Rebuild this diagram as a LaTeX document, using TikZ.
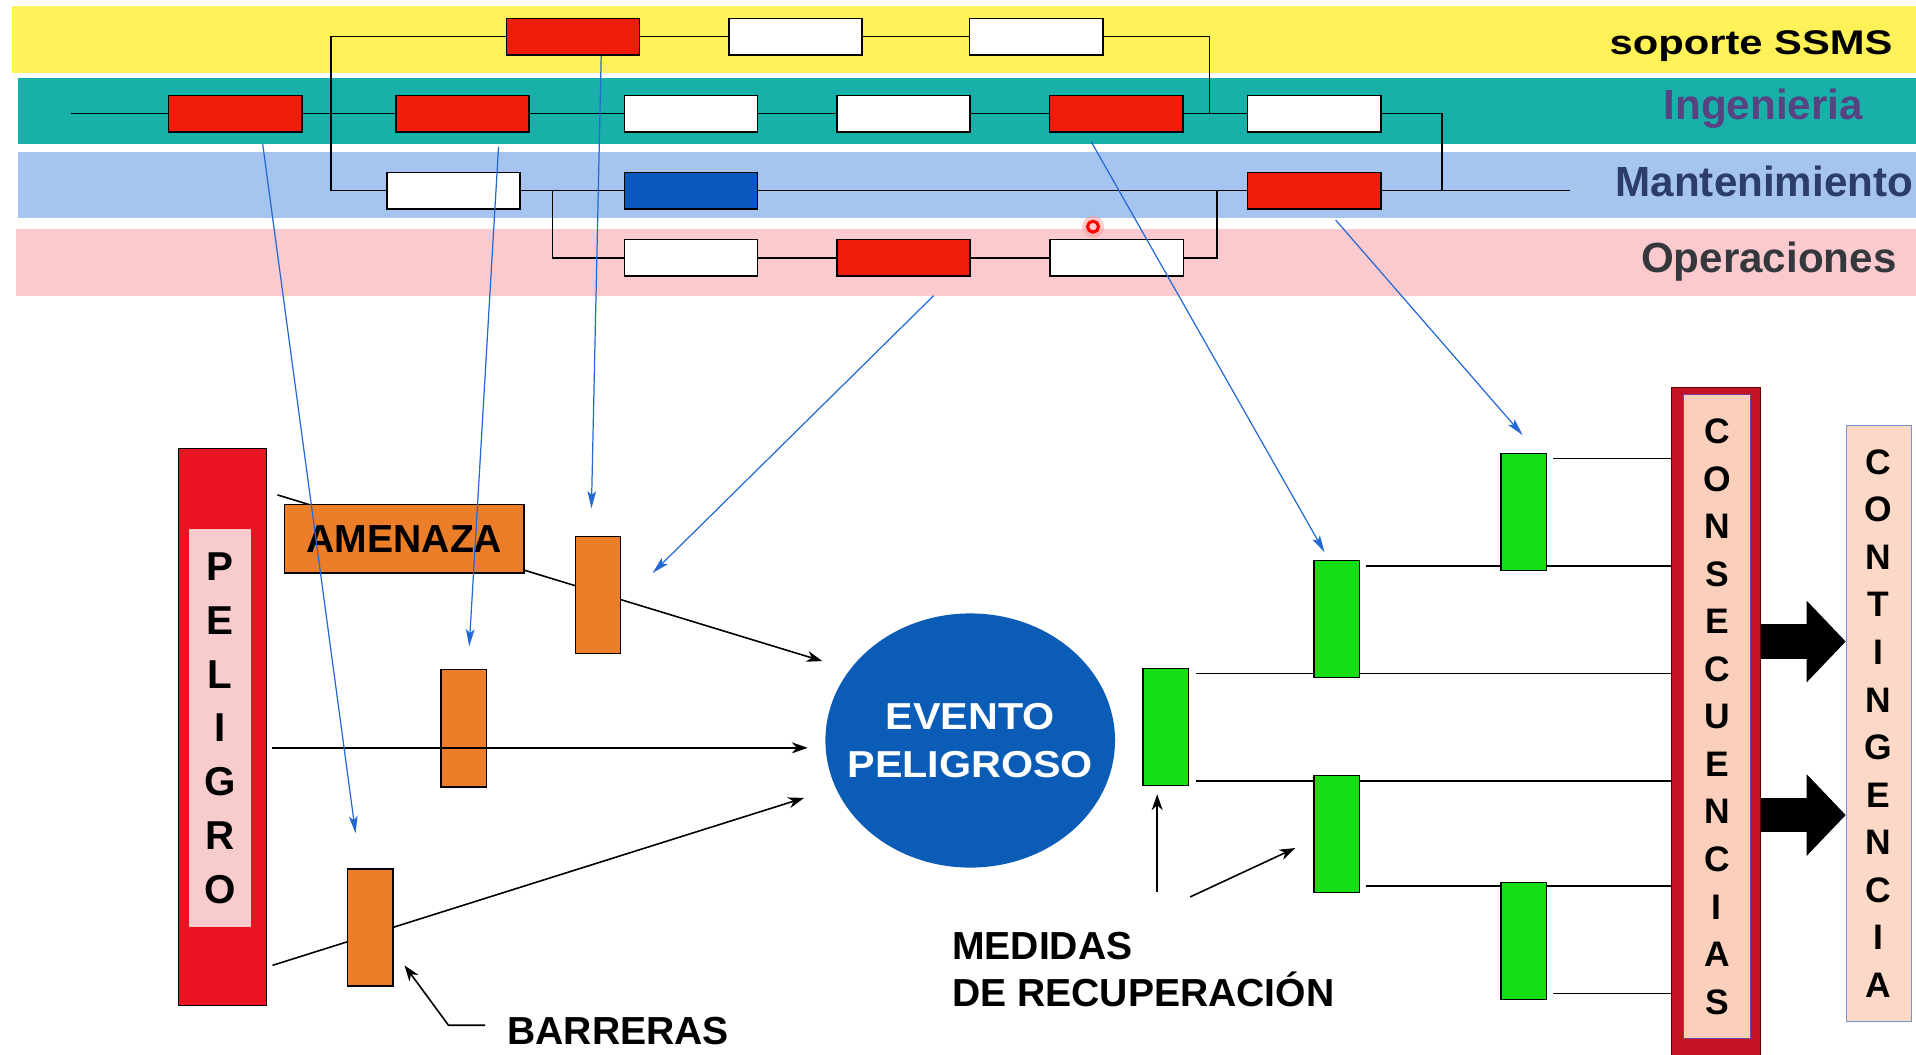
\documentclass[tikz,border=0pt]{standalone}
\usepackage{fontspec}
\setmainfont{Liberation Sans}
\newfontfamily\wideA{Liberation Sans}[FakeStretch=1.22]
\newfontfamily\wideB{Liberation Sans}[FakeStretch=1.1]
\usetikzlibrary{arrows.meta,shapes.geometric}
\definecolor{bandY}{RGB}{255,242,88}
\definecolor{bandT}{RGB}{24,176,168}
\definecolor{bandB}{RGB}{166,196,240}
\definecolor{bandP}{RGB}{250,202,206}
\definecolor{boxR}{RGB}{240,28,10}
\definecolor{boxB}{RGB}{10,90,190}
\definecolor{orng}{RGB}{236,126,42}
\definecolor{grn}{RGB}{20,222,20}
\definecolor{pelR}{RGB}{236,20,34}
\definecolor{pelP}{RGB}{248,204,204}
\definecolor{consR}{RGB}{196,18,36}
\definecolor{innC}{RGB}{110,70,160}
\definecolor{peach}{RGB}{250,208,188}
\definecolor{peachB}{RGB}{252,216,198}
\definecolor{contB}{RGB}{110,150,205}
\definecolor{evB}{RGB}{10,92,182}
\definecolor{arrB}{RGB}{36,104,214}
\definecolor{ingC}{RGB}{88,66,130}
\definecolor{manC}{RGB}{44,60,108}
\definecolor{opeC}{RGB}{52,56,60}
\newcommand\labfont{\fontsize{34.5}{40}\selectfont\bfseries}
\newcommand\txtfont{\fontsize{32}{38.5}\selectfont\bfseries}
\newcommand\vertfont{\fontsize{29}{38.9}\selectfont\bfseries}
\begin{document}
\begin{tikzpicture}[x=1pt,y=-1pt,
  tb/.style={draw=black, line width=1.3pt, minimum width=109pt, minimum height=30pt, inner sep=0pt},
  redb/.style={tb, fill=boxR},
  whtb/.style={tb, fill=white},
  blub/.style={tb, fill=boxB},
  conn/.style={line width=1.2pt},
  blar/.style={draw=arrB, line width=1pt, -{Stealth[length=14pt,width=7pt,inset=3pt]}},
  bkar/.style={line width=1.3pt, -{Stealth[length=13pt,width=9pt,inset=4pt]}},
  barr/.style={draw=black, line width=1.2pt, fill=orng, minimum width=37pt, minimum height=96pt, inner sep=0pt},
  gbox/.style={draw=black, line width=1.2pt, fill=grn, minimum width=37pt, minimum height=96pt, inner sep=0pt},
  lab/.style={inner sep=0pt, font=\labfont},
  bigar/.style={line width=28pt, -{Triangle[length=32pt,width=65pt]}}
]
\useasboundingbox (0,0) rectangle (1568,863);
\fill[white] (0,0) rectangle (1568,863);
% bands
\fill[bandY] (10,5) rectangle (1568,60);
\fill[bandT] (15,64) rectangle (1568,118);
\fill[bandB] (15,124) rectangle (1568,178);
\fill[bandP] (13,187) rectangle (1568,242);
% band labels
\node[inner sep=0pt, anchor=base east, font={\fontsize{28}{30}\wideA\bfseries}] (lS) at (1549,45) {soporte SSMS};
\node[lab, anchor=base, text=ingC] (lI) at (1443,98) {Ingenieria};
\node[lab, anchor=base west, text=manC] (lM) at (1322,161) {Mantenimiento};
\node[lab, anchor=base, text=opeC] (lO) at (1447.5,223) {Operaciones};
% top boxes
\node[redb] (Y1) at (469,30) {};
\node[whtb] (Y2) at (651,30) {};
\node[whtb] (Y3) at (848,30) {};
\node[redb] (I1) at (192.5,93) {};
\node[redb] (I2) at (378.5,93) {};
\node[whtb] (I3) at (565.5,93) {};
\node[whtb] (I4) at (739.5,93) {};
\node[redb] (I5) at (913.5,93) {};
\node[whtb] (I6) at (1075.5,93) {};
\node[whtb] (M1) at (371,156) {};
\node[blub] (M2) at (565.5,156) {};
\node[redb] (M3) at (1075.5,156) {};
\node[whtb] (O1) at (565.5,211) {};
\node[redb] (O2) at (739.5,211) {};
\node[whtb] (O3) at (914,211) {};
% top connectors
\coordinate (st) at (58,93);
\coordinate (jY) at (271,30);
\coordinate (jM) at (271,156);
\coordinate (kY) at (990,30);
\coordinate (kI) at (990,93);
\coordinate (kI6) at (1180,93);
\coordinate (kM) at (1180,156);
\coordinate (mEnd) at (1285,156);
\coordinate (jO1) at (452,156);
\coordinate (jO2) at (452,211);
\coordinate (kO1) at (996,211);
\coordinate (kO2) at (996,156);
\draw[conn] (st) -- (I1.west);
\draw[conn] (Y1.west) -- (jY) -- (jM) -- (M1.west);
\draw[conn] (Y1) -- (Y2);
\draw[conn] (Y2) -- (Y3);
\draw[conn] (Y3.east) -- (kY) -- (kI);
\draw[conn] (I1) -- (I2);
\draw[conn] (I2) -- (I3);
\draw[conn] (I3) -- (I4);
\draw[conn] (I4) -- (I5);
\draw[conn] (I5) -- (I6);
\draw[conn] (I6.east) -- (kI6) -- (kM);
\draw[conn] (M1) -- (M2);
\draw[conn] (M2) -- (M3);
\draw[conn] (M3.east) -- (mEnd);
\draw[conn] (jO1) -- (jO2) -- (O1.west);
\draw[conn] (O1) -- (O2);
\draw[conn] (O2) -- (O3);
\draw[conn] (O3.east) -- (kO1) -- (kO2);
% pointer mark
\fill[red!40, opacity=0.5] (894.5,185.5) circle[radius=9pt];
\draw[red, line width=2.5pt] (894.5,185.5) circle[radius=4.5pt];
% PELIGRO
\node[draw=black, line width=1.2pt, fill=pelR, minimum width=72pt, minimum height=456pt, inner sep=0pt] (pel) at (182,595) {};
\node[fill=pelP, minimum width=50pt, minimum height=326pt, inner sep=0pt, align=center, font={\fontsize{33}{44}\selectfont\bfseries}] (pelT) at (180,596) {P\\E\\L\\I\\G\\R\\O};
% threat line behind
\coordinate (a1s) at (227,405);
\coordinate (a1e) at (673,541);
\draw[bkar] (a1s) -- (a1e);
\node[draw=black, line width=1.2pt, fill=orng, minimum width=196pt, minimum height=56pt, inner sep=0pt, font=\txtfont] (amen) at (331,441) {AMENAZA};
% barriers
\coordinate (a3s) at (223,790);
\coordinate (a3e) at (658,653);
\draw[bkar] (a3s) -- (a3e);
\node[barr] (b1) at (489.5,487) {};
\node[barr] (b2) at (379.5,596) {};
\node[barr] (b3) at (303,759) {};
\coordinate (a2s) at (223,612);
\coordinate (a2e) at (661,612);
\draw[bkar] (a2s) -- (a2e);
% event
\node[ellipse, fill=evB, minimum width=237pt, minimum height=208pt, inner sep=0pt] (ev) at (794,606) {};
\node[inner sep=0pt, text=white, align=center, font={\fontsize{30.7}{39.6}\wideB\bfseries}] (evT) at (ev.center) {EVENTO\\PELIGROSO};
% BARRERAS
\node[inner sep=0pt, anchor=base west, font=\txtfont] (barT) at (415,855) {BARRERAS};
\coordinate (bA1) at (397,839);
\coordinate (bA2) at (367,839);
\coordinate (bA3) at (331,790);
\draw[bkar] (bA1) -- (bA2) -- (bA3);
% CONSECUENCIAS
\node[draw=black!60!red, line width=1pt, fill=consR, minimum width=73pt, minimum height=550pt, inner sep=0pt] (cons) at (1404.5,592) {};
\node[draw=innC, line width=1pt, fill=peach, minimum width=55pt, minimum height=527pt, inner sep=0pt, align=center, font=\vertfont] (consT) at (1405,586.5) {C\\O\\N\\S\\E\\C\\U\\E\\N\\C\\I\\A\\S};
% CONTINGENCIA
\node[draw=contB, line width=1pt, fill=peachB, minimum width=53pt, minimum height=488pt, inner sep=0pt, align=center, font=\vertfont] (cont) at (1537.5,592) {C\\O\\N\\T\\I\\N\\G\\E\\N\\C\\I\\A};
\draw[bigar] (cons.east |- 0,525) -- (cont.west |- 0,525);
\draw[bigar] (cons.east |- 0,667) -- (cont.west |- 0,667);
% recovery lines
\draw[conn] (979,551) -- (cons.west |- 0,551);
\draw[conn] (979,639) -- (cons.west |- 0,639);
\draw[conn] (1118,463) -- (cons.west |- 0,463);
\draw[conn] (1271,375) -- (cons.west |- 0,375);
\draw[conn] (1118,725) -- (cons.west |- 0,725);
\draw[conn] (1271,813) -- (cons.west |- 0,813);
% green boxes
\node[gbox] (G1) at (954,595) {};
\node[gbox] (G2) at (1094,506.5) {};
\node[gbox] (G3) at (1094,682.5) {};
\node[gbox] (G4) at (1247,419) {};
\node[gbox] (G5) at (1247,770) {};
% MEDIDAS
\node[inner sep=0pt, anchor=base west, font=\txtfont] (med1) at (779,785.5) {MEDIDAS};
\node[inner sep=0pt, anchor=base west, font=\txtfont] (med2) at (779,824) {DE RECUPERACIÓN};
\coordinate (m1s) at (947,730);
\coordinate (m1e) at (947,650);
\coordinate (m2s) at (974,734);
\coordinate (m2e) at (1060,694);
\draw[bkar] (m1s) -- (m1e);
\draw[bkar] (m2s) -- (m2e);
% blue arrows
\coordinate (bl1s) at (215,118);
\coordinate (bl1e) at (291,682);
\coordinate (bl2s) at (408,120);
\coordinate (bl2e) at (384,529);
\coordinate (bl3e) at (484,416);
\coordinate (bl4s) at (764,242);
\coordinate (bl4e) at (534,469);
\coordinate (bl5s) at (893,116);
\coordinate (bl5e) at (1084,452);
\coordinate (bl6s) at (1093,180);
\coordinate (bl6e) at (1246,356);
\draw[blar] (bl1s) -- (bl1e);
\draw[blar] (bl2s) -- (bl2e);
\draw[blar] ([xshift=23pt]Y1.south) -- (bl3e);
\draw[blar] (bl4s) -- (bl4e);
\draw[blar] (bl5s) -- (bl5e);
\draw[blar] (bl6s) -- (bl6e);
\end{tikzpicture}
\end{document}
